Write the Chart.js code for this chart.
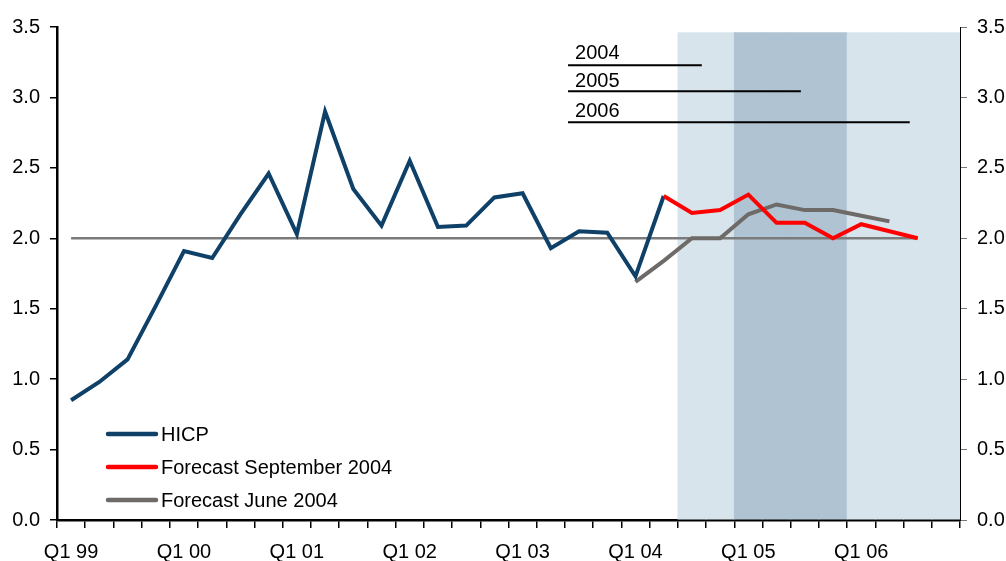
<!DOCTYPE html>
<html>
<head>
<meta charset="utf-8">
<script src="https://cdn.jsdelivr.net/npm/chart.js@4/dist/chart.umd.min.js"></script>
<style>
  html, body { margin: 0; padding: 0; background: #fff; }
  canvas { display: block; }
</style>
</head>
<body>
<canvas id="grafico" width="1006" height="561"></canvas>
<script>
// Quarters shown on the x axis
const quarters = [
  'Q1 99', 'Q2 99', 'Q3 99', 'Q4 99',
  'Q1 00', 'Q2 00', 'Q3 00', 'Q4 00',
  'Q1 01', 'Q2 01', 'Q3 01', 'Q4 01',
  'Q1 02', 'Q2 02', 'Q3 02', 'Q4 02',
  'Q1 03', 'Q2 03', 'Q3 03', 'Q4 03',
  'Q1 04', 'Q2 04', 'Q3 04', 'Q4 04',
  'Q1 05', 'Q2 05', 'Q3 05', 'Q4 05',
  'Q1 06', 'Q2 06', 'Q3 06', 'Q4 06'
];

// Series (annual % change)
const hicp = [0.85, 0.98, 1.14, 1.52, 1.91, 1.86, 2.17, 2.46, 2.03, 2.90, 2.35, 2.09,
              2.55, 2.08, 2.09, 2.29, 2.32, 1.93, 2.05, 2.04, 1.73, 2.30];
const forecastSep = [null, null, null, null, null, null, null, null, null, null, null,
                     null, null, null, null, null, null, null, null, null, null,
                     2.30, 2.18, 2.20, 2.31, 2.11, 2.11, 2.00, 2.10, 2.05, 2.00];
const forecastJun = [null, null, null, null, null, null, null, null, null, null, null,
                     null, null, null, null, null, null, null, null, null,
                     1.69, 1.84, 2.00, 2.00, 2.17, 2.24, 2.20, 2.20, 2.16, 2.12];

// Reference level and its span
const refLevel = 2.0;
const refFrom = 'Q1 99';
const refTo = 'Q3 06';

// Shaded forecast periods
const shadeTop = 3.46;
const lightQuarters = ['Q3 04', 'Q4 04', 'Q1 06', 'Q2 06', 'Q3 06', 'Q4 06'];
const darkQuarters = ['Q1 05', 'Q2 05', 'Q3 05', 'Q4 05'];

// Year horizon markers (x in quarter index units)
const yearNames = ['2004', '2005', '2006'];
const yearLineStart = 17.61;
const yearLineEnd = [22.35, 25.86, 29.72];
const yearLineLevel = [3.229, 3.044, 2.824];
const yearTextLevel = [3.274, 3.075, 2.864];
const yearTextStart = 17.86;

const yTicks = [0, 0.5, 1, 1.5, 2, 2.5, 3, 3.5];

const corHicp = '#0e4068';
const corSet = '#ff0000';
const corJun = '#6d6a68';
const corRef = '#7b7b7b';
const corClaro = '#d8e4eb';
const corEscuro = '#afc3d2';
const fonte = "'Liberation Sans', Arial, sans-serif";

// dados das barras para as faixas sombreadas
const sombra = quarters.map(q => (lightQuarters.includes(q) || darkQuarters.includes(q)) ? shadeTop : null);
const corSombra = quarters.map(q => darkQuarters.includes(q) ? corEscuro : corClaro);

const linhasAno = yearNames.map((nome, i) => ({
  type: 'line',
  label: nome,
  xAxisID: 'xa',
  data: [{ x: yearLineStart, y: yearLineLevel[i] }, { x: yearLineEnd[i], y: yearLineLevel[i] }],
  borderColor: '#000',
  borderWidth: 2,
  pointRadius: 0,
  order: 1
}));

const legenda = [
  { texto: 'HICP', cor: corHicp },
  { texto: 'Forecast September 2004', cor: corSet },
  { texto: 'Forecast June 2004', cor: corJun }
];

// plugin para textos dos anos e legenda dentro do gráfico
const extras = {
  id: 'extras',
  afterDatasetsDraw(chart) {
    const ctx = chart.ctx;
    const xa = chart.scales.xa;
    const y = chart.scales.y;
    ctx.save();
    ctx.font = '20px ' + fonte;
    ctx.fillStyle = '#000';
    ctx.textAlign = 'left';
    ctx.textBaseline = 'alphabetic';
    yearNames.forEach((nome, i) => {
      ctx.fillText(nome, xa.getPixelForValue(yearTextStart), y.getPixelForValue(yearTextLevel[i]));
    });

    const ys = [434, 467, 500];
    ctx.textBaseline = 'middle';
    legenda.forEach((item, i) => {
      ctx.beginPath();
      ctx.strokeStyle = item.cor;
      ctx.lineWidth = 4.5;
      ctx.lineCap = 'round';
      ctx.moveTo(108, ys[i]);
      ctx.lineTo(156, ys[i]);
      ctx.stroke();
      ctx.fillStyle = '#000';
      ctx.fillText(item.texto, 161, ys[i] + 1);
    });
    ctx.restore();
  }
};

const ctx = document.getElementById('grafico').getContext('2d');
new Chart(ctx, {
  type: 'line',
  data: {
    labels: quarters,
    datasets: [
      {
        type: 'bar',
        label: 'shade',
        xAxisID: 'x',
        yAxisID: 'y',
        data: sombra,
        backgroundColor: corSombra,
        borderWidth: 0,
        grouped: false,
        barPercentage: 1,
        categoryPercentage: 1,
        order: 10
      },
      {
        label: 'ref',
        data: [{ x: refFrom, y: refLevel }, { x: refTo, y: refLevel }],
        borderColor: corRef,
        borderWidth: 2.5,
        pointRadius: 0,
        order: 5
      },
      {
        label: 'Forecast June 2004',
        data: forecastJun,
        borderColor: corJun,
        borderWidth: 4,
        pointRadius: 0,
        tension: 0,
        order: 3
      },
      {
        label: 'Forecast September 2004',
        data: forecastSep,
        borderColor: corSet,
        borderWidth: 4,
        pointRadius: 0,
        tension: 0,
        order: 2
      },
      {
        label: 'HICP',
        data: hicp,
        borderColor: corHicp,
        borderWidth: 4,
        pointRadius: 0,
        tension: 0,
        order: 2
      },
      ...linhasAno
    ]
  },
  options: {
    responsive: false,
    devicePixelRatio: 1,
    animation: false,
    layout: { padding: { top: 27, left: 0, right: 0, bottom: 0 } },
    plugins: {
      legend: { display: false },
      tooltip: { enabled: false }
    },
    scales: {
      x: {
        type: 'category',
        offset: true,
        grid: { offset: true, drawOnChartArea: false, drawTicks: true, tickLength: 8, color: '#000', lineWidth: 1.5 },
        border: { color: '#000', width: 2.5 },
        ticks: {
          autoSkip: false,
          maxRotation: 0,
          padding: 12,
          color: '#000',
          font: { family: fonte, size: 20 },
          callback: function (v) {
            const l = this.getLabelForValue(v);
            return l.startsWith('Q1') ? l : '';
          }
        },
        afterFit(scale) { scale.height = 41; }
      },
      xa: {
        type: 'linear',
        display: false,
        min: -0.5,
        max: 31.5
      },
      y: {
        position: 'left',
        min: 0,
        max: 3.5,
        afterBuildTicks(scale) { scale.ticks = yTicks.map(v => ({ value: v })); },
        grid: { drawOnChartArea: false, tickLength: 7, color: '#000', lineWidth: 1.5 },
        border: { color: '#000', width: 2.5 },
        ticks: {
          padding: 10,
          color: '#000',
          font: { family: fonte, size: 20 },
          callback: v => v.toFixed(1)
        },
        afterFit(scale) { scale.width = 57; }
      },
      y2: {
        position: 'right',
        min: 0,
        max: 3.5,
        afterBuildTicks(scale) { scale.ticks = yTicks.map(v => ({ value: v })); },
        grid: { drawOnChartArea: false, tickLength: 7, color: '#777', lineWidth: 1 },
        border: { color: '#000', width: 1 },
        ticks: {
          padding: 10,
          color: '#000',
          font: { family: fonte, size: 20 },
          callback: v => v.toFixed(1)
        },
        afterFit(scale) { scale.width = 46; }
      }
    }
  },
  plugins: [extras]
});
</script>
</body>
</html>
